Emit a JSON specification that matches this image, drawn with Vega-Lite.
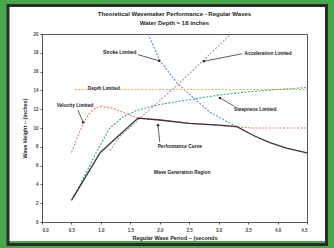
{
  "$schema": "https://vega.github.io/schema/vega-lite/v6.json",
  "autosize": {"type": "none"},
  "width": 265,
  "height": 188,
  "padding": {"left": 42, "top": 34, "right": 27, "bottom": 26},
  "background": "white",
  "title": {
    "text": ["Theoretical Wavemaker Performance - Regular Waves", "Water Depth = 18 inches"],
    "font": "Liberation Sans", "fontSize": 6, "fontWeight": "bold", "color": "#222",
    "anchor": "middle", "offset": -33, "lineHeight": 9
  },
  "config": {
    "view": {"stroke": "#555", "strokeWidth": 1},
    "axis": {
      "grid": false, "domainColor": "#555", "tickColor": "#555", "tickSize": 2,
      "labelFont": "Liberation Sans", "labelFontSize": 4.5, "labelColor": "#444", "labelFontWeight": "bold",
      "titleFont": "Liberation Sans", "titleFontSize": 5.5, "titleFontWeight": "bold", "titleColor": "#222"
    },
    "axisX": {"tickCount": 10, "format": ".1f", "labelPadding": 3, "titlePadding": 4},
    "axisY": {"tickCount": 10, "labelPadding": 2, "titlePadding": 5}
  },
  "datasets": {
    "curves": [
      {"series": "Velocity", "part": "a", "T": 0.5, "H": 7.4}, {"series": "Velocity", "part": "a", "T": 0.6, "H": 9.0}, {"series": "Velocity", "part": "a", "T": 0.7, "H": 10.5},
      {"series": "Velocity", "part": "a", "T": 0.8, "H": 11.5}, {"series": "Velocity", "part": "a", "T": 0.9, "H": 12.1}, {"series": "Velocity", "part": "a", "T": 1.0, "H": 12.3},
      {"series": "Velocity", "part": "a", "T": 1.2, "H": 12.1}, {"series": "Velocity", "part": "a", "T": 1.4, "H": 11.6}, {"series": "Velocity", "part": "a", "T": 1.63, "H": 11.05},
      {"series": "Velocity", "part": "a", "T": 2.0, "H": 10.85}, {"series": "Velocity", "part": "a", "T": 2.5, "H": 10.5}, {"series": "Velocity", "part": "a", "T": 3.0, "H": 10.3},
      {"series": "Velocity", "part": "a", "T": 3.31, "H": 10.1}, {"series": "Velocity", "part": "a", "T": 3.6, "H": 10.0}, {"series": "Velocity", "part": "a", "T": 4.5, "H": 10.0},
      {"series": "Steepness", "part": "a", "T": 0.53, "H": 2.6}, {"series": "Steepness", "part": "a", "T": 0.7, "H": 4.6}, {"series": "Steepness", "part": "a", "T": 0.93, "H": 7.5},
      {"series": "Steepness", "part": "a", "T": 1.15, "H": 10.0}, {"series": "Steepness", "part": "a", "T": 1.38, "H": 11.2}, {"series": "Steepness", "part": "a", "T": 1.6, "H": 11.85},
      {"series": "Steepness", "part": "a", "T": 1.8, "H": 12.2}, {"series": "Steepness", "part": "a", "T": 2.0, "H": 12.5}, {"series": "Steepness", "part": "a", "T": 2.34, "H": 12.85},
      {"series": "Steepness", "part": "a", "T": 2.7, "H": 13.2}, {"series": "Steepness", "part": "a", "T": 3.0, "H": 13.5}, {"series": "Steepness", "part": "a", "T": 3.5, "H": 13.85},
      {"series": "Steepness", "part": "a", "T": 4.0, "H": 14.1}, {"series": "Steepness", "part": "a", "T": 4.5, "H": 14.3},
      {"series": "Stroke", "part": "a", "T": 1.8, "H": 20.0}, {"series": "Stroke", "part": "a", "T": 2.0, "H": 17.2}, {"series": "Stroke", "part": "a", "T": 2.29, "H": 14.8},
      {"series": "Stroke", "part": "a", "T": 2.57, "H": 13.2}, {"series": "Stroke", "part": "a", "T": 2.85, "H": 11.7}, {"series": "Stroke", "part": "a", "T": 3.31, "H": 10.1},
      {"series": "Acceleration", "part": "a", "T": 1.15, "H": 7.6}, {"series": "Acceleration", "part": "a", "T": 1.32, "H": 9.1}, {"series": "Acceleration", "part": "a", "T": 1.89, "H": 12.3},
      {"series": "Acceleration", "part": "a", "T": 2.34, "H": 14.8}, {"series": "Acceleration", "part": "a", "T": 2.74, "H": 17.2}, {"series": "Acceleration", "part": "a", "T": 3.19, "H": 19.9},
      {"series": "Depth", "part": "a", "T": 0.56, "H": 14.1}, {"series": "Depth", "part": "a", "T": 0.78, "H": 14.1},
      {"series": "Depth", "part": "b", "T": 1.33, "H": 14.1}, {"series": "Depth", "part": "b", "T": 4.5, "H": 14.1},
      {"series": "Performance", "part": "a", "T": 0.5, "H": 2.3}, {"series": "Performance", "part": "a", "T": 0.99, "H": 7.4}, {"series": "Performance", "part": "a", "T": 1.63, "H": 11.05},
      {"series": "Performance", "part": "a", "T": 2.0, "H": 10.85}, {"series": "Performance", "part": "a", "T": 2.5, "H": 10.5}, {"series": "Performance", "part": "a", "T": 3.0, "H": 10.3},
      {"series": "Performance", "part": "a", "T": 3.31, "H": 10.15}, {"series": "Performance", "part": "a", "T": 3.59, "H": 9.2}, {"series": "Performance", "part": "a", "T": 3.87, "H": 8.45},
      {"series": "Performance", "part": "a", "T": 4.15, "H": 7.85}, {"series": "Performance", "part": "a", "T": 4.5, "H": 7.35}
    ],
    "labels": [
      {"label": "Stroke Limited", "T": 1.32, "H": 17.95},
      {"label": "Acceleration Limited", "T": 3.84, "H": 17.9},
      {"label": "Depth Limited", "T": 1.05, "H": 14.12},
      {"label": "Steepness Limited", "T": 3.62, "H": 11.9},
      {"label": "Performance Curve", "T": 2.34, "H": 7.98},
      {"label": "Velocity Limited", "T": 0.56, "H": 12.34},
      {"label": "Wave Generation Region", "T": 2.38, "H": 5.2}
    ],
    "leaders": [
      {"T": 1.63, "H": 17.8, "T2": 1.99, "H2": 17.15},
      {"T": 3.4, "H": 17.9, "T2": 2.75, "H2": 17.1},
      {"T": 3.27, "H": 12.3, "T2": 3.02, "H2": 13.2},
      {"T": 2.0, "H": 8.5, "T2": 1.97, "H2": 10.3},
      {"T": 0.61, "H": 11.9, "T2": 0.7, "H2": 10.6}
    ]
  },
  "layer": [
    {
      "data": {"name": "curves"},
      "transform": [{"filter": "datum.series !== 'Performance'"}],
      "mark": {"type": "line", "strokeWidth": 1.1, "strokeDash": [2, 1.5]},
      "encoding": {
        "x": {"field": "T", "type": "quantitative", "scale": {"domain": [0, 4.5], "nice": false, "zero": false},
              "title": "Regular Wave Period – (seconds"},
        "y": {"field": "H", "type": "quantitative", "scale": {"domain": [0, 20], "nice": false, "zero": false},
              "title": "Wave Height – (inches)"},
        "color": {"field": "series", "type": "nominal", "legend": null,
                  "scale": {"domain": ["Velocity", "Steepness", "Stroke", "Acceleration", "Depth"],
                            "range": ["#ec7a72", "#3ba88c", "#5a8fc8", "#b48cc4", "#f6ab4e"]}},
        "detail": [{"field": "series"}, {"field": "part"}]
      }
    },
    {
      "data": {"name": "curves"},
      "transform": [{"filter": "datum.series === 'Performance'"}],
      "mark": {"type": "line", "strokeWidth": 1.3, "color": "#3a3232"},
      "encoding": {
        "x": {"field": "T", "type": "quantitative", "title": "Regular Wave Period – (seconds"},
        "y": {"field": "H", "type": "quantitative", "title": "Wave Height – (inches)"}
      }
    },
    {
      "data": {"name": "leaders"},
      "mark": {"type": "rule", "color": "#333", "strokeWidth": 0.8},
      "encoding": {
        "x": {"field": "T", "type": "quantitative", "title": "Regular Wave Period – (seconds"},
        "y": {"field": "H", "type": "quantitative", "title": "Wave Height – (inches)"},
        "x2": {"field": "T2"},
        "y2": {"field": "H2"}
      }
    },
    {
      "data": {"name": "leaders"},
      "mark": {"type": "point", "filled": true, "color": "#222", "size": 6, "opacity": 1},
      "encoding": {
        "x": {"field": "T2", "type": "quantitative", "title": "Regular Wave Period – (seconds"},
        "y": {"field": "H2", "type": "quantitative", "title": "Wave Height – (inches)"}
      }
    },
    {
      "data": {"name": "labels"},
      "mark": {"type": "text", "font": "Liberation Sans", "fontSize": 4.8, "fontWeight": "bold", "color": "#222", "baseline": "middle"},
      "encoding": {
        "x": {"field": "T", "type": "quantitative", "title": "Regular Wave Period – (seconds"},
        "y": {"field": "H", "type": "quantitative", "title": "Wave Height – (inches)"},
        "text": {"field": "label"}
      }
    },
    {
      "data": {"values": [{"panel": "green border"}]},
      "mark": {"type": "rect", "fillOpacity": 0, "stroke": "#46a846", "strokeWidth": 14},
      "encoding": {
        "x": {"datum": -0.713, "type": "quantitative", "title": "Regular Wave Period – (seconds"},
        "x2": {"datum": 4.958},
        "y": {"datum": 23.62, "type": "quantitative", "title": "Wave Height – (inches)"},
        "y2": {"datum": -2.77}
      }
    },
    {
      "data": {"values": [{"panel": "dark edge"}]},
      "mark": {"type": "rect", "fillOpacity": 0, "stroke": "#2b2b2b", "strokeWidth": 3},
      "encoding": {
        "x": {"datum": -0.577, "type": "quantitative", "title": "Regular Wave Period – (seconds"},
        "x2": {"datum": 4.831},
        "y": {"datum": 23.03, "type": "quantitative", "title": "Wave Height – (inches)"},
        "y2": {"datum": -2.39}
      }
    }
  ]
}
